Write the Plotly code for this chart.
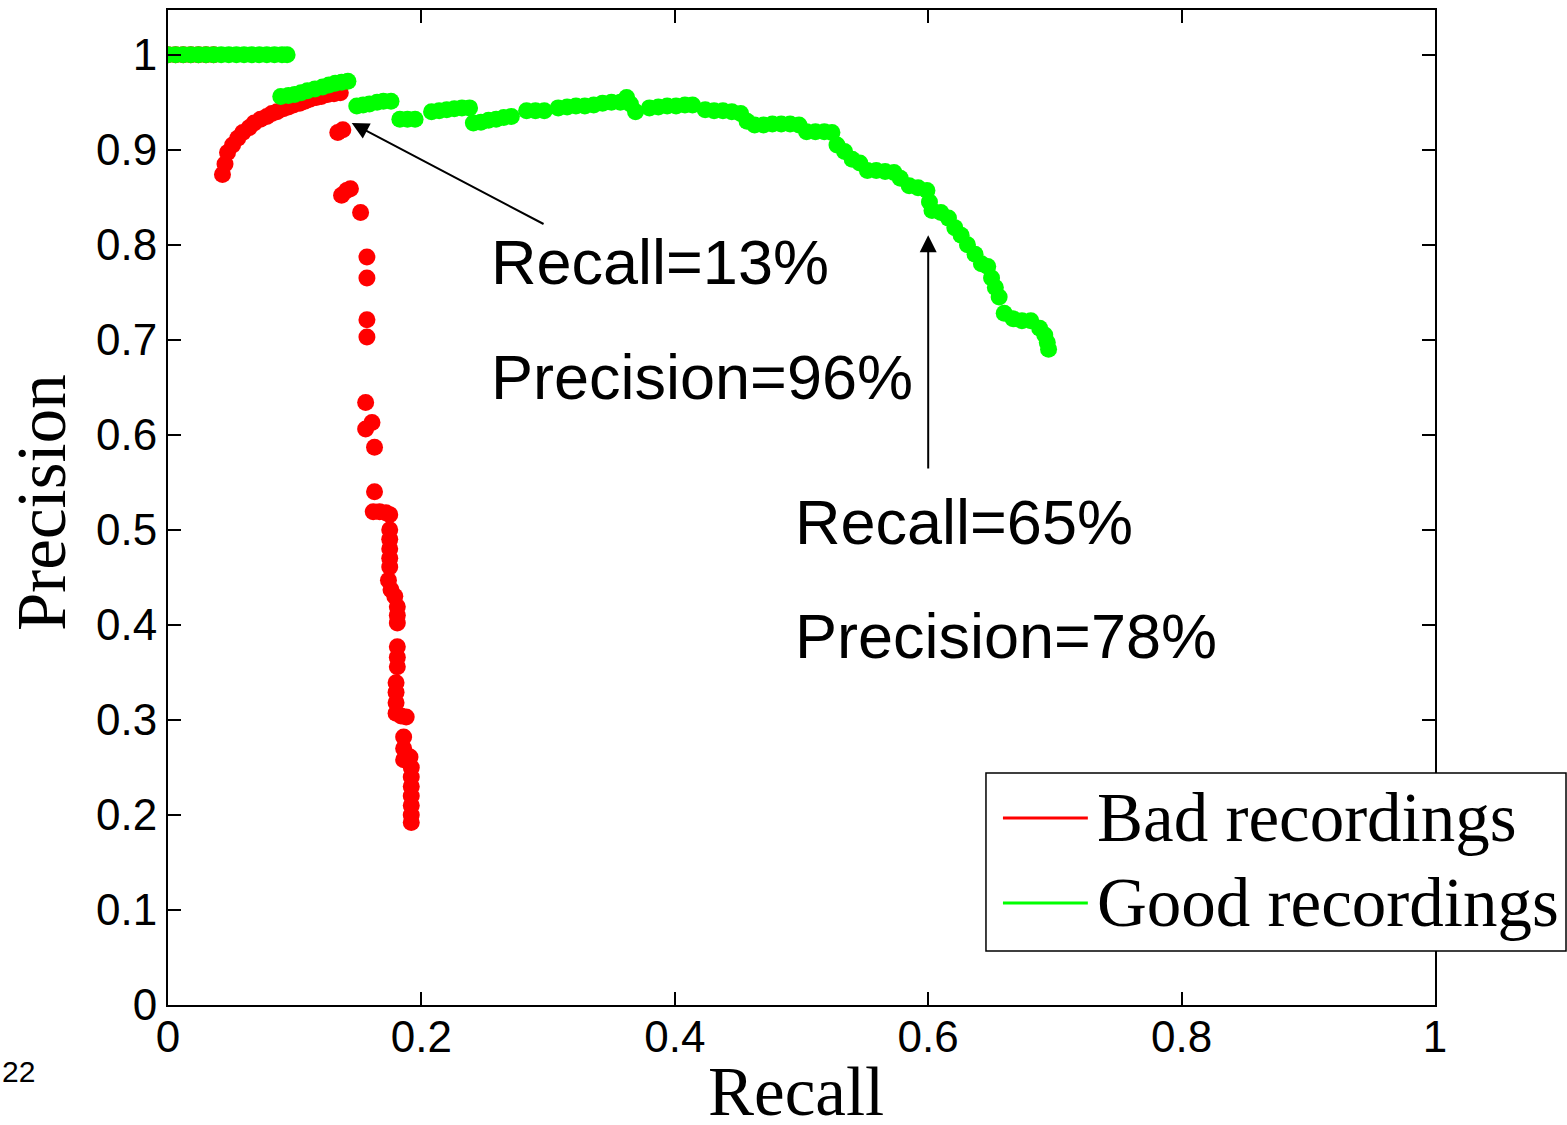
import plotly.graph_objects as go

# ---- data ----
bad_recall = [0.000, 0.006, 0.012, 0.018, 0.024, 0.030, 0.036,
              0.043, 0.045, 0.047, 0.051, 0.055, 0.059, 0.064, 0.068, 0.073, 0.078,
              0.082, 0.086, 0.091, 0.095, 0.099, 0.104, 0.108, 0.112, 0.117, 0.121,
              0.126, 0.131, 0.136,
              0.134, 0.138,
              0.137, 0.141, 0.144,
              0.152,
              0.157, 0.157, 0.157, 0.157,
              0.156, 0.156, 0.161, 0.163,
              0.163, 0.162, 0.167, 0.172, 0.175,
              0.175, 0.175, 0.175, 0.175, 0.175,
              0.174, 0.176, 0.179, 0.181, 0.181, 0.181,
              0.181, 0.181, 0.181,
              0.180, 0.180, 0.180, 0.180, 0.184, 0.188,
              0.186, 0.186, 0.186,
              0.191, 0.192, 0.192, 0.192, 0.192, 0.192, 0.192, 0.192]
bad_precision = [1.0, 1.0, 1.0, 1.0, 1.0, 1.0, 1.0,
                 0.874, 0.885, 0.897, 0.905, 0.912, 0.918, 0.923, 0.928, 0.932, 0.935,
                 0.938, 0.940, 0.943, 0.945, 0.947, 0.949, 0.951, 0.953, 0.955, 0.956,
                 0.958, 0.959, 0.960,
                 0.918, 0.921,
                 0.852, 0.857, 0.859,
                 0.834,
                 0.787, 0.765, 0.721, 0.703,
                 0.634, 0.606, 0.613, 0.587,
                 0.540, 0.519, 0.519, 0.518, 0.516,
                 0.500, 0.490, 0.480, 0.470, 0.461,
                 0.447, 0.437, 0.430, 0.419, 0.410, 0.402,
                 0.377, 0.366, 0.356,
                 0.339, 0.329, 0.318, 0.307, 0.304, 0.303,
                 0.282, 0.270, 0.258,
                 0.261, 0.250, 0.240, 0.230, 0.220, 0.210, 0.200, 0.192]

good_recall = [0.000, 0.006, 0.012, 0.018, 0.024, 0.030, 0.036, 0.042, 0.048, 0.054,
               0.060, 0.066, 0.072, 0.078, 0.084, 0.090, 0.094,
               0.089, 0.095, 0.100, 0.105, 0.110, 0.116, 0.122, 0.127, 0.132, 0.137, 0.142,
               0.149, 0.154, 0.159, 0.165, 0.170, 0.176,
               0.183, 0.189, 0.195,
               0.208, 0.214, 0.220, 0.226, 0.232, 0.238,
               0.241, 0.247, 0.253, 0.259, 0.265, 0.271,
               0.283, 0.290, 0.297,
               0.308, 0.315, 0.322, 0.329, 0.336, 0.343, 0.350, 0.357,
               0.362, 0.365, 0.369,
               0.380, 0.387, 0.394, 0.401, 0.408, 0.414,
               0.424, 0.431, 0.438, 0.445, 0.452, 0.457,
               0.463, 0.470, 0.477, 0.484, 0.491, 0.498,
               0.504, 0.511, 0.518, 0.524,
               0.528, 0.534, 0.540, 0.546,
               0.552, 0.559, 0.566, 0.573, 0.578,
               0.585, 0.592, 0.599, 0.601, 0.603,
               0.610, 0.616, 0.621, 0.626,
               0.631, 0.637, 0.642,
               0.647, 0.650, 0.653, 0.656,
               0.660, 0.667, 0.674, 0.681,
               0.688, 0.692, 0.694, 0.695]
good_precision = [1.0] * 17 + [
               0.956, 0.957, 0.958, 0.960, 0.962, 0.964, 0.966, 0.968, 0.970, 0.971, 0.972,
               0.946, 0.947, 0.948, 0.950, 0.951, 0.951,
               0.932, 0.932, 0.932,
               0.940, 0.941, 0.942, 0.943, 0.944, 0.944,
               0.928, 0.929, 0.931, 0.932, 0.934, 0.935,
               0.941, 0.941, 0.941,
               0.944, 0.945, 0.946, 0.946, 0.947, 0.949, 0.950, 0.950,
               0.955, 0.948, 0.940,
               0.944, 0.945, 0.946, 0.946, 0.947, 0.947,
               0.942, 0.941, 0.941, 0.940, 0.938, 0.930,
               0.926, 0.926, 0.927, 0.927, 0.927, 0.926,
               0.919, 0.919, 0.919, 0.918,
               0.905, 0.898, 0.890, 0.886,
               0.878, 0.878, 0.877, 0.876, 0.870,
               0.862, 0.860, 0.857, 0.845, 0.836,
               0.834, 0.828, 0.818, 0.810,
               0.800, 0.790, 0.780,
               0.777, 0.765, 0.755, 0.745,
               0.728, 0.722, 0.720, 0.720,
               0.712, 0.705, 0.697, 0.690]

x_ticks = [0, 0.2, 0.4, 0.6, 0.8, 1]
x_tick_labels = ["0", "0.2", "0.4", "0.6", "0.8", "1"]
y_ticks = [0, 0.1, 0.2, 0.3, 0.4, 0.5, 0.6, 0.7, 0.8, 0.9, 1]
y_tick_labels = ["0", "0.1", "0.2", "0.3", "0.4", "0.5", "0.6", "0.7", "0.8", "0.9", "1"]

series_names = ["Bad recordings", "Good recordings"]
series_colors = ["#ff0000", "#00ff00"]

SANS = "Arial, Liberation Sans, sans-serif"
SERIF = "Times New Roman, Liberation Serif, serif"

fig = go.Figure()
fig.add_trace(go.Scatter(x=bad_recall, y=bad_precision, mode="markers", name=series_names[0],
                         marker=dict(color=series_colors[0], size=17, line=dict(width=0)),
                         showlegend=False))
fig.add_trace(go.Scatter(x=good_recall, y=good_precision, mode="markers", name=series_names[1],
                         marker=dict(color=series_colors[1], size=17, line=dict(width=0)),
                         showlegend=False))

axis_common = dict(showline=True, linecolor="black", linewidth=2, mirror="ticks",
                   ticks="inside", ticklen=13, tickwidth=1.5, tickcolor="black",
                   showgrid=False, zeroline=False, automargin=False,
                   tickfont=dict(family=SANS, size=44, color="black"))

fig.update_xaxes(range=[0, 1], tickvals=x_ticks, ticktext=x_tick_labels,
                 ticklabelstandoff=-8, **axis_common)
fig.update_yaxes(range=[0, 1.047], tickvals=y_ticks, ticktext=y_tick_labels,
                 **axis_common)

# axis titles
fig.add_annotation(x=0.4957, y=-0.0875, xref="paper", yref="paper", text="Recall",
                   showarrow=False, xanchor="center", yanchor="middle",
                   font=dict(family=SERIF, size=69, color="black"))
fig.add_annotation(x=-0.0994, y=0.5045, xref="paper", yref="paper", text="Precision",
                   showarrow=False, xanchor="center", yanchor="middle", textangle=-90,
                   font=dict(family=SERIF, size=69, color="black"))

# arrows
fig.add_annotation(x=0.145, y=0.928, ax=0.2976, ay=0.821, xref="x", yref="y",
                   axref="x", ayref="y", text="", showarrow=True,
                   arrowhead=2, arrowsize=1.7, arrowwidth=2, arrowcolor="black")
fig.add_annotation(x=0.6, y=0.81, ax=0.6, ay=0.563, xref="x", yref="y",
                   axref="x", ayref="y", text="", showarrow=True,
                   arrowhead=2, arrowsize=1.7, arrowwidth=2, arrowcolor="black")

# texts
labels = [("Recall=13%", 0.253, 0.782), ("Precision=96%", 0.253, 0.661),
          ("Recall=65%", 0.493, 0.508), ("Precision=78%", 0.493, 0.388)]
for txt, lx, ly in labels:
    fig.add_annotation(x=lx, y=ly, xref="x", yref="y", text=txt, showarrow=False,
                       xanchor="left", yanchor="middle",
                       font=dict(family=SANS, size=63, color="black"))

# custom legend
fig.add_shape(type="rect", xref="paper", yref="paper", x0=0.6456, x1=1.1034,
              y0=0.0543, y1=0.2332, fillcolor="white",
              line=dict(color="black", width=1.5), layer="above")
legend_y = [0.1879, 0.1025]
for name, col, ly in zip(series_names, series_colors, legend_y):
    fig.add_shape(type="line", xref="paper", yref="paper", x0=0.659, x1=0.726,
                  y0=ly, y1=ly, line=dict(color=col, width=3), layer="above")
    fig.add_annotation(x=0.7320, y=ly, xref="paper", yref="paper", text=name,
                       showarrow=False, xanchor="left", yanchor="middle",
                       font=dict(family=SERIF, size=69, color="black"))

# slide number
fig.add_annotation(x=-0.1326, y=-0.067, xref="paper", yref="paper", text="22",
                   showarrow=False, xanchor="left", yanchor="middle",
                   font=dict(family=SANS, size=30, color="black"))

fig.update_layout(width=1567, height=1125, margin=dict(l=168, r=132, t=10, b=120),
                  plot_bgcolor="white", paper_bgcolor="white", showlegend=False)

fig.write_html("out.html")
